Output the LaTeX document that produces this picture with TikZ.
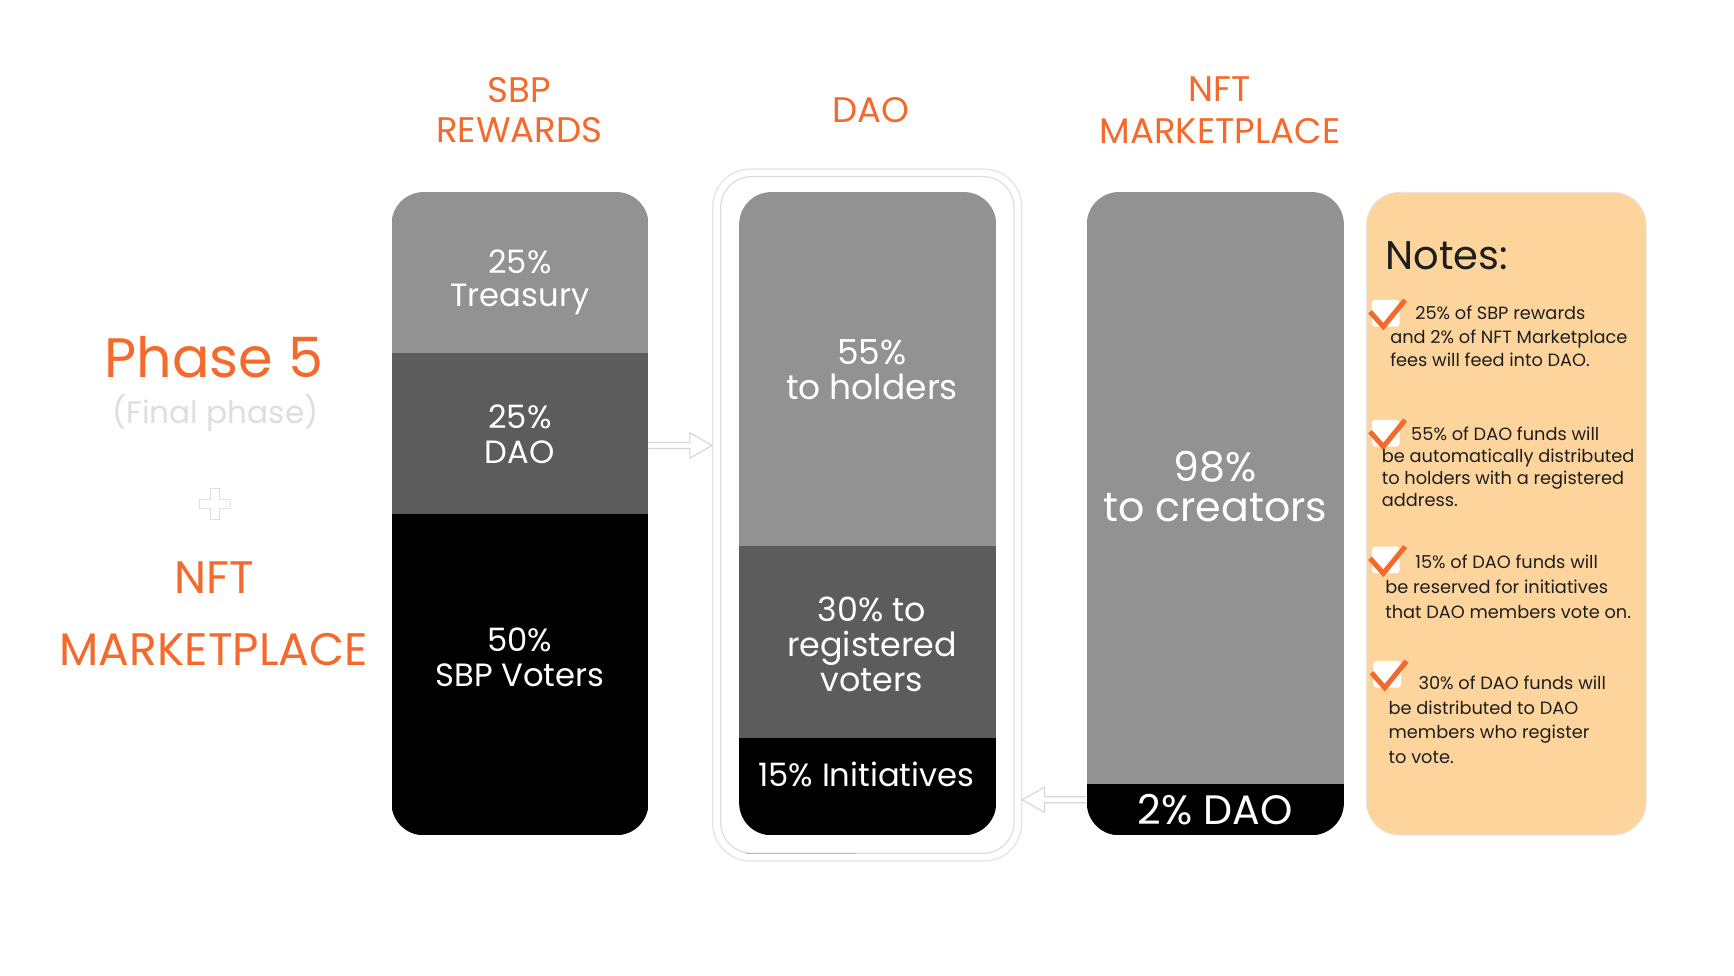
\documentclass[tikz,border=0pt]{standalone}
\usepackage{fontspec}
\setmainfont{Poppins}
\usetikzlibrary{positioning,calc}

\definecolor{brandorange}{HTML}{F46A2C}
\definecolor{notefill}{HTML}{FDD59C}
\definecolor{midgrey}{HTML}{929292}
\definecolor{darkgrey}{HTML}{5C5C5C}
\definecolor{frameouter}{HTML}{E4E4E4}
\definecolor{frameinner}{HTML}{DDDDDD}
\definecolor{arrowgrey}{HTML}{D6D6D6}
\definecolor{notetext}{HTML}{1E1E1E}

\newcommand{\fsz}[2]{\fontsize{#1}{#2}\selectfont}

\begin{document}
\begin{tikzpicture}[x=1pt,y=-1pt,line cap=round,line join=round,
	headtext/.style={text=brandorange,align=center,anchor=base,inner sep=0pt},
	coltext/.style={text=white,align=center,anchor=base,inner sep=0pt},
	colbox/.style={minimum width=231pt,minimum height=578.6pt,inner sep=0pt,draw=none},
	notetxt/.style={text=notetext,align=left,anchor=base west,inner sep=0pt},
	tickbox/.style={fill=white,rounded corners=3pt,minimum width=25pt,minimum height=24pt,inner sep=0pt},
	tickmark/.style={draw=brandorange,line width=4.5pt,line cap=butt,line join=miter},
	hollowarrow/.style={draw=arrowgrey,line width=1pt,fill=white,line join=miter}]
	
	% page
	\fill[white] (0,0) rectangle (1561,878);
	\useasboundingbox (0,0) rectangle (1561,878);
	
	% sizes
	\def\colw{231}  % column width
	\def\rad{29}    % corner radius
	\def\xa{352.6}  % left edge sbp
	\def\xb{665.6}  % left edge dao
	\def\xc{978.6}  % left edge nft
	
	% titles (base = last line)
	\node[headtext,font=\fsz{32}{36}] (sbptitle) at (467.6,128.4) {SBP\\REWARDS};
	\node[headtext,font=\fsz{32}{36}] (daotitle) at (783.8,110.1) {DAO};
	\node[headtext,font=\fsz{32}{38}] (nfttitle) at (1098.3,129) {NFT\\MARKETPLACE};
	
	% left side
	\node[headtext,font=\fsz{50}{60}] (phase) at (192.5,339.6) {Phase 5};
	\node[text=black!13,anchor=base,inner sep=0pt,font=\fsz{28}{30}] (finalphase) at (194,381) {(Final phase)};
	\coordinate (plus) at (193.5,454);
	\draw[line width=9pt,black!12,line cap=butt] ($(plus)+(-14.5,0)$) -- ($(plus)+(14.5,0)$) ($(plus)+(0,-14.5)$) -- ($(plus)+(0,14.5)$);
	\draw[line width=7pt,white,line cap=butt] ($(plus)+(-13.5,0)$) -- ($(plus)+(13.5,0)$) ($(plus)+(0,-13.5)$) -- ($(plus)+(0,13.5)$);
	\node[headtext,font=\fsz{41}{65}] (nftleft) at (192.5,599) {NFT\\MARKETPLACE};
	
	% columns
	\node[colbox] (sbp) at (468.1,462.4) {};
	\node[colbox] (dao) at (781.1,462.4) {};
	\node[colbox] (nft) at (1094.1,462.4) {};
	
	% sbp rewards
	\begin{scope}
		\clip[rounded corners=\rad] (sbp.north west) rectangle (sbp.south east);
		\fill[midgrey] (\xa,173.1) rectangle ++(\colw,144.9);
		\fill[darkgrey] (\xa,318) rectangle ++(\colw,145);
		\fill[black] (\xa,463) rectangle ++(\colw,288.7);
	\end{scope}
	\node[coltext,font=\fsz{29}{29.5}] (treasury) at (468,275.5) {25\%\\Treasury};
	\node[coltext,font=\fsz{29}{31.5}] (sbpdao) at (468,417.1) {25\%\\DAO};
	\node[coltext,font=\fsz{29}{31}] (voters) at (468,617.6) {50\%\\SBP Voters};
	
	% dao frame
	\node[draw=frameouter,line width=1.1pt,rounded corners=34pt,minimum width=278.2pt,minimum height=622.9pt,inner sep=0pt] (daoframe) at (780.7,463.65) {};
	\node[draw=frameinner,line width=1.1pt,rounded corners=28pt,minimum width=264.1pt,minimum height=609.2pt,inner sep=0pt] (daoinner) at (780.85,463.6) {};
	\draw[black!28,line width=1.1pt] (672,768.2) -- (770,768.2);
	
	% dao
	\begin{scope}
		\clip[rounded corners=\rad] (dao.north west) rectangle (dao.south east);
		\fill[midgrey] (\xb,173.1) rectangle ++(\colw,318.4);
		\fill[darkgrey] (\xb,491.5) rectangle ++(\colw,173.2);
		\fill[black] (\xb,664.7) rectangle ++(\colw,87);
	\end{scope}
	\node[coltext,font=\fsz{31}{31.5}] (holders) at (785,360) {55\%\\to holders};
	\node[coltext,font=\fsz{30}{31.5}] (registered) at (785,622.7) {30\% to\\registered\\voters};
	\node[coltext,font=\fsz{29}{31}] (initiatives) at (780,708) {15\% Initiatives};
	
	% nft marketplace
	\begin{scope}
		\clip[rounded corners=\rad] (nft.north west) rectangle (nft.south east);
		\fill[midgrey] (\xc,173.1) rectangle ++(\colw,532.7);
		\fill[black] (\xc,705.8) rectangle ++(\colw,46);
	\end{scope}
	\node[coltext,font=\fsz{37}{36}] (creators) at (1094,469.6) {98\%\\to creators};
	\node[coltext,font=\fsz{37}{40}] (nftdao) at (1094,742) {2\% DAO};
	
	% hollow arrows
	\coordinate (rowtop) at (0,401);
	\coordinate (rowlow) at (0,720);
	\coordinate (sbpout) at (sbp.east |- rowtop);
	\coordinate (daoin) at (daoframe.west |- rowtop);
	\coordinate (nftout) at (nft.west |- rowlow);
	\coordinate (daoback) at (daoframe.east |- rowlow);
	\draw[hollowarrow] ($(sbpout)+(0,-2.7)$) -- ($(daoin)+(-20,-2.7)$) -- ($(daoin)+(-20,-11.4)$) -- (daoin)
	-- ($(daoin)+(-20,11.4)$) -- ($(daoin)+(-20,2.7)$) -- ($(sbpout)+(0,2.7)$);
	\draw[hollowarrow] ($(nftout)+(0,-2.7)$) -- ($(daoback)+(20,-2.7)$) -- ($(daoback)+(20,-11.4)$) -- (daoback)
	-- ($(daoback)+(20,11.4)$) -- ($(daoback)+(20,2.7)$) -- ($(nftout)+(0,2.7)$);
	
	% notes
	\node[fill=notefill,draw=black!10,line width=0.8pt,rounded corners=30pt,minimum width=252pt,minimum height=578.6pt,inner sep=0pt] (notes) at (1356,462.4) {};
	\node[notetxt,font=\fsz{36}{40}] (notestitle) at (1246.9,242.2) {Notes:};
	
	\foreach \n/\cx/\cy in {1/1247.5/282,2/1247.5/390,3/1247.5/504,4/1248.8/607}{
		\node[tickbox] (tick\n) at (\cx,\cy) {};
		\draw[tickmark] ($(tick\n.center)+(-14.2,-1.4)$) -- ($(tick\n.center)+(-2.2,12.1)$) -- ($(tick\n.center)+(17.4,-11.9)$);
	}
	
	% note texts (base = last line)
	\node[notetxt,font=\fsz{16}{21.3}] (note1) at (1251.4,330.1) {\hspace*{22.5pt}25\% of SBP rewards\\and 2\% of NFT Marketplace\\fees will feed into DAO.};
	\node[notetxt,font=\fsz{16}{19.8}] (note2) at (1243.8,456.1) {\hspace*{26.4pt}55\% of DAO funds will\\be automatically distributed\\to holders with a registered\\address.};
	\node[notetxt,font=\fsz{16}{22.5}] (note3) at (1246.9,556.6) {\hspace*{27pt}15\% of DAO funds will\\be reserved for initiatives\\that DAO members vote on.};
	\node[notetxt,font=\fsz{16}{22.2}] (note4) at (1249.9,687.2) {\hspace*{26.9pt}30\% of DAO funds will\\be distributed to DAO\\members who register\\to vote.};
	
\end{tikzpicture}
\end{document}
